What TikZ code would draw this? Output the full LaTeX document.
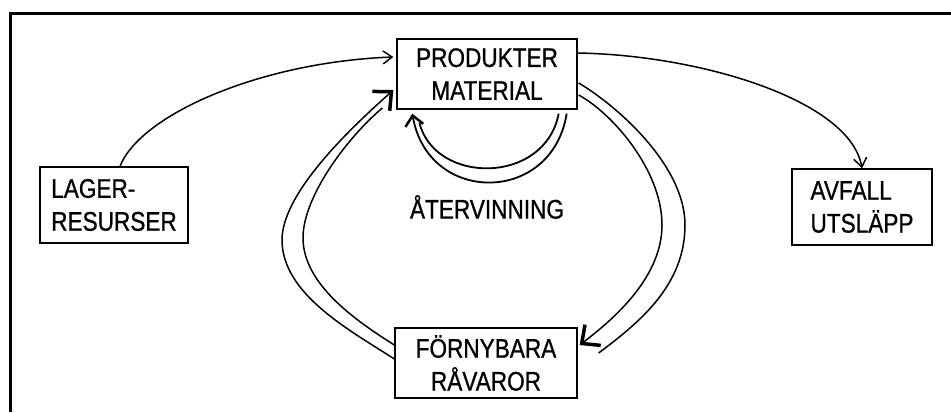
\documentclass[tikz,border=0pt]{standalone}
\usepackage{fontspec}
\setmainfont{Liberation Sans}
\newfontfamily\condsans[FakeStretch=0.84,FakeBold=0.8]{Liberation Sans}
\usetikzlibrary{arrows.meta,calc}
\begin{document}
\begin{tikzpicture}[x=1bp,y=-1bp,
  lbl/.style={font=\condsans\fontsize{27}{33}\selectfont, inner sep=0pt},
  box/.style={lbl, draw, line width=1.3bp, minimum width=#1},
  flow/.style={line width=1.5bp},
  thinhead/.style={-{Straight Barb[length=9bp,width=13bp,line width=1.5bp]}},
  boldhead/.style={-{Straight Barb[length=14bp,width=26bp,line width=3.5bp]}},
  cyclehead/.style={-{Straight Barb[length=10bp,width=18bp,line width=2.5bp]}}]
\useasboundingbox (0,0) rectangle (951,412);

% frame (top and left edges)
\draw[line width=3bp, line join=miter] (951,13.5) -- (10,13.5) -- (10,412);

% boxes
\node[box=180bp, minimum height=70bp, align=center] (prod) at (487,74) {PRODUKTER\\MATERIAL};
\node[box=148bp, minimum height=76bp, align=left] (lager) at (114,205) {LAGER-\\RESURSER};
\node[box=140bp, minimum height=76bp, align=left] (avfall) at (862,207) {AVFALL\\UTSLÄPP};
\node[box=182bp, minimum height=70bp, align=center] (forny) at (486,363) {FÖRNYBARA\\RÅVAROR};
\node[lbl] (atv) at (487,207) {ÅTERVINNING};

% stock resources into products
\draw[flow, thinhead] ($(lager.north)+(6,0)$) .. controls (140,115) and (260,62) .. ($(prod.west)+(-3,-17)$);

% products to waste
\draw[flow, thinhead] ($(prod.east)+(0,-21)$) .. controls (700,55) and (850,100) .. (avfall.north);

% renewable raw materials back to products (left loop)
\draw[flow, boldhead] ($(forny.west)+(0,-4)$)
  .. controls (353,332) and (282,295) .. (282,240)
  .. controls (282,190) and (360,120) .. ($(prod.west)+(-3,16)$);
\draw[flow] ($(forny.west)+(0,-18)$)
  .. controls (358,322) and (303,285) .. (303,238)
  .. controls (303,195) and (350,135) .. ($(prod.west)+(-14,34)$);

% products to renewable raw materials (right loop)
\draw[flow] ($(prod.east)+(1,9)$)
  .. controls (616,105) and (685,165) .. (685,225)
  .. controls (685,285) and (640,322) .. ($(forny.east)+(21,-10)$);
\draw[flow, boldhead] ($(prod.east)+(1,21)$)
  .. controls (612,113) and (662,170) .. (662,225)
  .. controls (662,275) and (618,316) .. ($(forny.east)+(2,-18)$);

% recycling loop
\draw[line width=1.8bp, cyclehead] ($(prod.south east)+(-11,4)$)
  .. controls (552,205) and (428,205) .. ($(prod.south west)+(16,4)$);
\draw[line width=1.8bp] ($(prod.south east)+(-19,4)$)
  .. controls (545,185) and (435,185) .. ($(prod.south west)+(23,13)$);
\end{tikzpicture}
\end{document}
